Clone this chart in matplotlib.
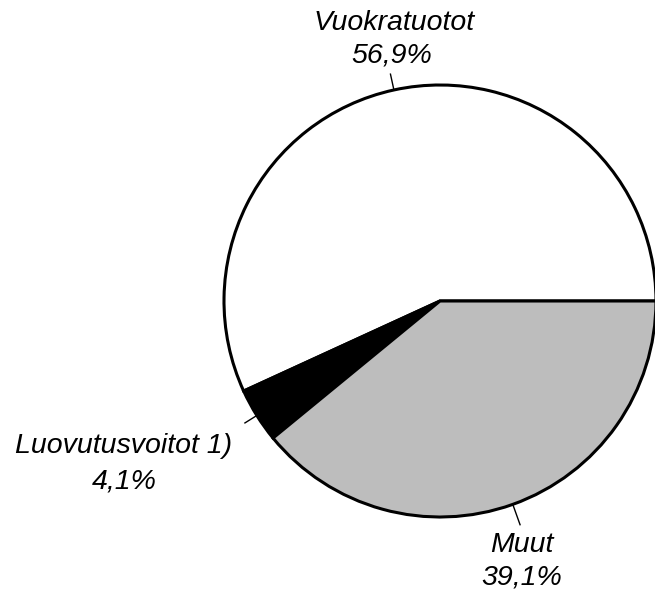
import numpy as np
import matplotlib.pyplot as plt

labels = ["Vuokratuotot", "Luovutusvoitot 1)", "Muut"]
shares = [56.9, 4.1, 39.1]
share_text = ["56,9%", "4,1%", "39,1%"]
colors = ["white", "black", "#bdbdbd"]

W, H = 655, 596
cx, cy, r = 440, H - 301, 216

fig = plt.figure(figsize=(6.55, 5.96), dpi=100)
ax = fig.add_axes([0, 0, 1, 1])
ax.axis("off")

wedges, _ = ax.pie(shares, colors=colors, startangle=0, counterclock=True,
                   center=(cx, cy), radius=r, normalize=True,
                   wedgeprops=dict(edgecolor="black", linewidth=2.2))
ax.set_xlim(0, W)
ax.set_ylim(0, H)
ax.set_aspect("equal")

# label centres (pixels from top-left), gap to percentage line, leader lengths
label_pos = [(394, 23), (124, 446), (522, 545)]
pct_pos = [(392, 56), (124, 481), (522, 578)]
leader_out = [1.075, 1.065, 1.1]

tot = sum(shares)
start = 0.0
for i, s in enumerate(shares):
    mid = np.deg2rad(start + s / tot * 360 / 2)
    start += s / tot * 360
    x0, y0 = cx + r * np.cos(mid), cy + r * np.sin(mid)
    x1, y1 = cx + r * leader_out[i] * np.cos(mid), cy + r * leader_out[i] * np.sin(mid)
    ax.plot([x0, x1], [y0, y1], color="black", lw=1.0)
    lx, ly = label_pos[i]
    ax.text(lx, H - ly, labels[i], ha="center", va="center", fontsize=20.5,
            style="italic", family="Liberation Sans")
    px, py = pct_pos[i]
    ax.text(px, H - py, share_text[i], ha="center", va="center", fontsize=20.5,
            style="italic", family="Liberation Sans")

fig.savefig("out.png", dpi=100)
